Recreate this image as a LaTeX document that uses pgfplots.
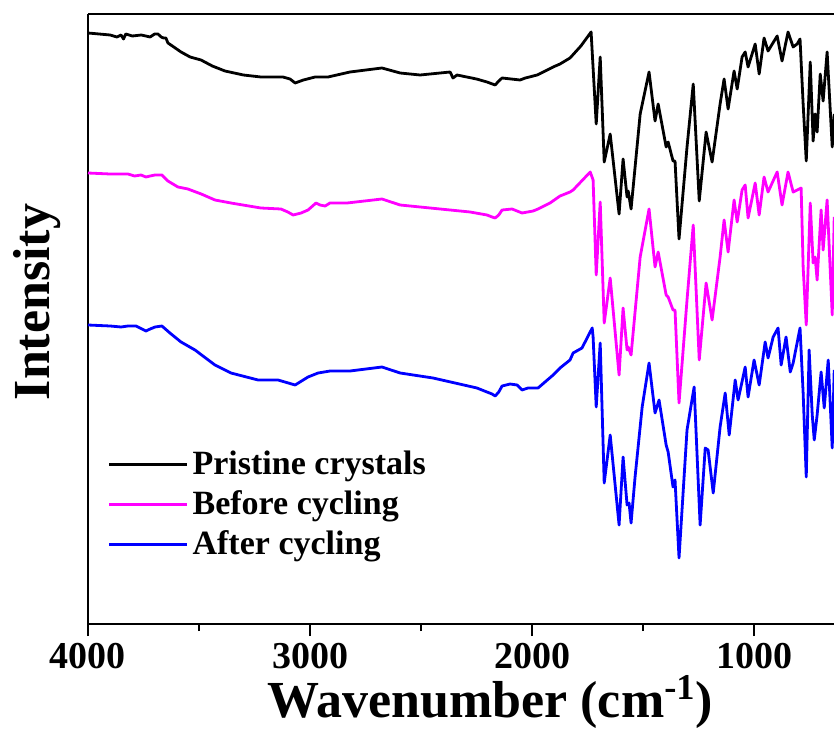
\documentclass[border=0pt]{standalone}
\usepackage{fontspec}
\setmainfont{Liberation Serif}
\usepackage{pgfplots}
\pgfplotsset{compat=1.18}
\definecolor{specmagenta}{RGB}{255,0,255}
\definecolor{specblue}{RGB}{0,0,255}

% FTIR spectra, offset vertically (arbitrary intensity units)
\pgfplotstableread{
wn    I
4000  591
3950  590
3900  589
3870  587
3851  589
3840  585
3830  590
3800  588
3760  589
3720  587
3700  590
3685  590
3670  587
3660  586
3649  586
3640  581
3620  578
3581  572
3540  567
3491  564
3440  558
3383  553
3300  549
3221  547
3122  547
3090  545
3067  541
3030  544
2977  547
2919  547
2820  552
2676  556
2594  551
2504  549
2369  552
2356  546
2338  549
2250  545
2203  542
2166  539
2150  543
2135  546
2054  544
2030  546
1977  549
1905  557
1874  560
1829  566
1780  578
1734  592
1711  500
1693  567
1675  462
1648  490
1608  410
1590  465
1572  427
1567  433
1554  415
1513  510
1473  552
1446  503
1432  520
1396  477
1387  482
1365  463
1356  463
1338  385
1302  477
1274  540
1247  423
1216  492
1189  462
1153  520
1135  545
1117  515
1090  553
1076  535
1054  567
1040  572
1027  557
995   580
977   550
955   586
937   573
896   588
874   563
847   592
824   577
806   580
793   585
779   520
765   463
747   562
734   483
725   510
716   492
702   550
689   523
671   572
648   477
639   510
}\pristine

\pgfplotstableread{
wn    I
4000  451
3900  450
3820  450
3790  448
3761  449
3739  447
3720  448
3698  449
3667  449
3640  443
3595  437
3550  435
3490  430
3428  424
3356  421
3221  416
3131  415
3100  412
3076  409
3040  411
3009  414
2973  421
2955  419
2932  418
2910  421
2833  421
2676  425
2594  419
2459  416
2279  412
2203  409
2180  407
2166  406
2150  409
2135  414
2090  415
2045  411
1995  413
1973  415
1919  421
1874  428
1829  432
1815  434
1738  452
1725  444
1711  349
1693  422
1675  301
1648  346
1608  249
1590  316
1572  274
1567  277
1554  269
1513  367
1473  415
1446  357
1432  372
1396  329
1387  327
1365  314
1356  314
1338  221
1302  324
1274  399
1247  264
1216  341
1189  304
1153  367
1135  404
1117  372
1090  424
1076  402
1054  434
1040  439
1027  406
995   441
977   409
955   447
937   432
896   452
874   419
847   452
824   432
806   434
788   436
779   357
765   299
747   421
734   361
725   367
716   344
698   414
689   374
671   424
648   309
639   407
}\before

\pgfplotstableread{
wn    I
4000  299
3900  298
3851  297
3820  298
3784  298
3739  293
3720  295
3698  297
3667  298
3631  291
3581  282
3518  274
3428  259
3356  251
3234  244
3144  244
3067  239
3009  247
2964  251
2910  253
2820  253
2676  257
2594  251
2446  246
2248  236
2203  232
2180  230
2166  228
2150  232
2135  238
2099  240
2067  239
2045  234
2018  236
1973  236
1905  249
1874  256
1829  264
1815  271
1775  276
1729  296
1725  287
1711  217
1693  281
1675  141
1648  189
1608  99
1590  167
1572  119
1563  121
1554  101
1536  147
1504  217
1473  261
1446  211
1428  224
1396  179
1387  172
1365  137
1356  144
1338  66
1302  194
1270  237
1243  99
1220  176
1207  174
1184  131
1153  197
1130  231
1112  189
1085  244
1072  224
1040  257
1027  227
1000  264
977   239
950   282
937   266
914   287
892   296
878   259
856   287
837   252
824   261
793   296
779   231
765   147
752   274
738   209
729   184
716   209
698   252
684   216
666   264
648   176
639   254
}\after

\begin{document}
\begin{tikzpicture}
\begin{axis}[
  scale only axis,
  width=373pt, height=305pt,
  x dir=reverse,
  xmin=640, xmax=4000, ymin=0, ymax=610,
  axis x line*=box, axis y line*=left,
  y axis line style={-},
  axis line style={line width=1.25pt},
  ytick=\empty,
  xtick={1000,2000,3000,4000},
  minor xtick={1500,2500,3500},
  xtick pos=bottom,
  tick align=outside,
  major tick length=6pt, minor tick length=3.5pt,
  every tick/.style={black, line width=1.2pt},
  /pgf/number format/assume math mode=true,
  /pgf/number format/1000 sep={},
  xticklabel style={font=\fontsize{19}{22}\selectfont\bfseries},
  xlabel={Wavenumber (cm\textsuperscript{-1})},
  ylabel={Intensity},
  xlabel style={font=\fontsize{26}{30}\selectfont\bfseries, at={(axis description cs:0.539,0)}, anchor=north, yshift=-22pt},
  ylabel style={font=\fontsize{26}{30}\selectfont\bfseries, at={(axis description cs:-0.068,0.528)}, anchor=center},
  legend style={at={(axis description cs:0.018,0.297)}, anchor=north west,
    draw=none, fill=none, font=\fontsize{17}{20}\selectfont\bfseries,
    row sep=2.5pt},
  legend cell align=left,
  legend image code/.code={\draw[#1] (0pt,0pt) -- (39pt,0pt);},
  every axis plot/.append style={line width=1.4pt, line join=round},
]
\addplot[black] table[x=wn, y=I] {\pristine};
\addlegendentry{Pristine crystals}
\addplot[specmagenta] table[x=wn, y=I] {\before};
\addlegendentry{Before cycling}
\addplot[specblue] table[x=wn, y=I] {\after};
\addlegendentry{After cycling}
\end{axis}
\pgfresetboundingbox
\useasboundingbox (-44pt,-58pt) rectangle (373pt,312pt);
\end{tikzpicture}
\end{document}
